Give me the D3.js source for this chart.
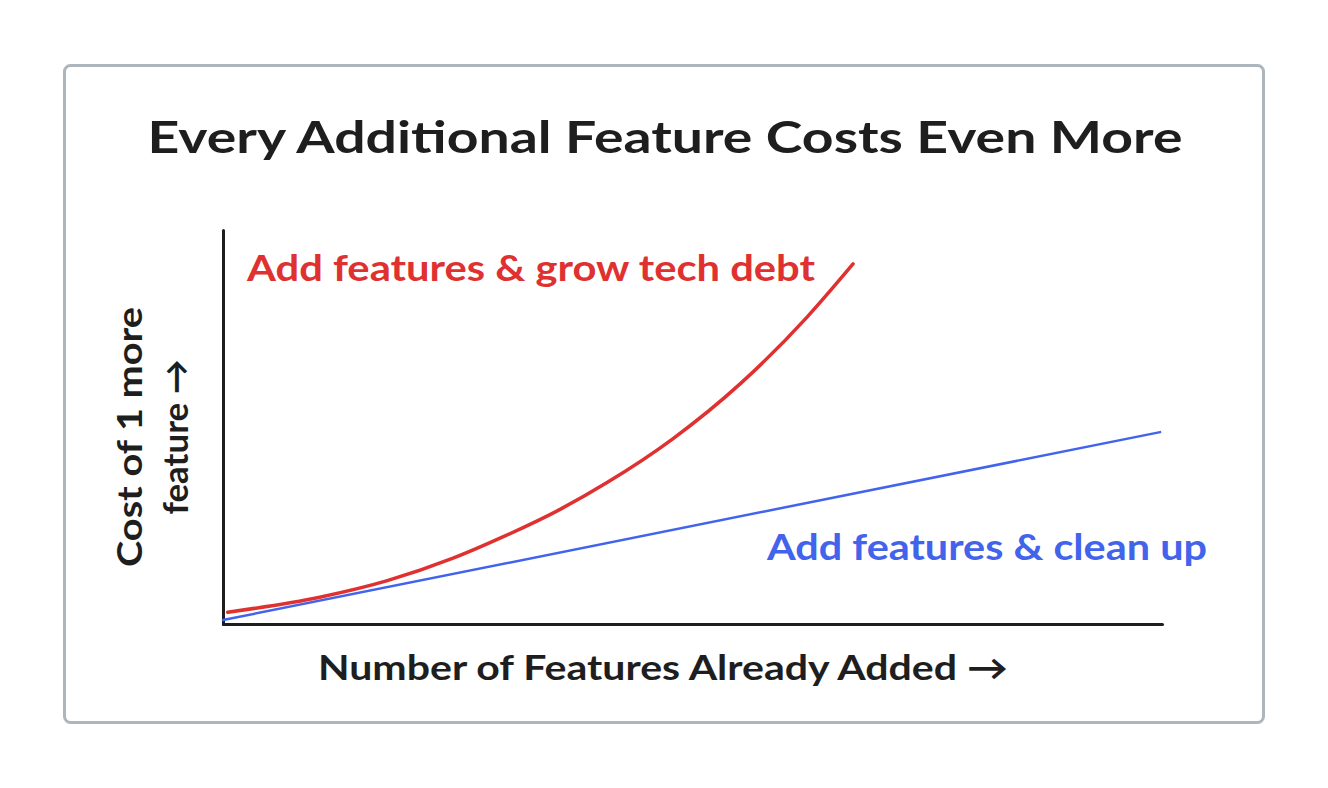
<!DOCTYPE html>
<html>
<head>
<meta charset="utf-8">
<script src="https://cdn.jsdelivr.net/npm/d3@7"></script>
<style>
  html, body { margin: 0; padding: 0; background: #ffffff; }
  svg { display: block; }
  text { font-family: Lato, "Noto Sans", sans-serif; font-weight: 700; }
</style>
</head>
<body>
<svg id="chart" width="1328" height="788"></svg>
<script>
// ---- data ----
const title = "Every Additional Feature Costs Even More";
const xAxisLabel = "Number of Features Already Added →";
const yAxisLabelLines = ["Cost of 1 more", "feature →"];
const seriesNames = ["Add features & grow tech debt", "Add features & clean up"];

// series 1: grows with tech debt (features added, cost of one more)
const debtX = [0.05, 1.03, 1.75, 2.45, 2.98, 3.59, 4.09, 4.79, 5.51, 6.22, 6.71];
const debtY = [0.30, 0.68, 1.10, 1.67, 2.21, 2.91, 3.59, 4.70, 6.10, 7.79, 9.14];
// series 2: clean up keeps cost linear
const cleanX = [0, 9.98];
const cleanY = [0.10, 4.87];

// ---- drawing ----
const svg = d3.select("#chart");
const W = 1328, H = 788;

svg.append("rect").attr("x", 0).attr("y", 0).attr("width", W).attr("height", H).attr("fill", "#ffffff");
svg.append("rect")
  .attr("x", 64.5).attr("y", 65.5).attr("width", 1199).attr("height", 657)
  .attr("rx", 6).attr("fill", "#ffffff")
  .attr("stroke", "#adb5bd").attr("stroke-width", 3);

const plot = { left: 223, right: 1162, top: 230, bottom: 624 };
const x = d3.scaleLinear().domain([0, 10]).range([plot.left, plot.right]);
const y = d3.scaleLinear().domain([0, 10]).range([plot.bottom, plot.top]);

// title
svg.append("text")
  .attr("x", 665).attr("y", 153)
  .attr("text-anchor", "middle")
  .attr("font-size", 44)
  .attr("fill", "#1e1e1e")
  .attr("textLength", 1035).attr("lengthAdjust", "spacingAndGlyphs")
  .text(title);

// axes (lines only)
const xAxis = d3.axisBottom(x).tickValues([]).tickSizeOuter(0);
const yAxis = d3.axisLeft(y).tickValues([]).tickSizeOuter(0);
svg.append("g").attr("transform", `translate(0,${plot.bottom})`).call(xAxis)
  .select(".domain").attr("stroke", "#1e1e1e").attr("stroke-width", 3).attr("stroke-linecap", "round");
svg.append("g").attr("transform", `translate(${plot.left},0)`).call(yAxis)
  .select(".domain").attr("stroke", "#1e1e1e").attr("stroke-width", 3).attr("stroke-linecap", "round");

// lines
const line = d3.line().x(d => x(d[0])).y(d => y(d[1])).curve(d3.curveMonotoneX);
const debtData = debtX.map((v, i) => [v, debtY[i]]);
const cleanData = cleanX.map((v, i) => [v, cleanY[i]]);

svg.append("path").datum(cleanData).attr("d", line)
  .attr("fill", "none").attr("stroke", "#4263eb").attr("stroke-width", 2.5).attr("stroke-linecap", "round");
svg.append("path").datum(debtData).attr("d", line)
  .attr("fill", "none").attr("stroke", "#e03131").attr("stroke-width", 3.5).attr("stroke-linecap", "round");

// series labels
svg.append("text")
  .attr("x", 247).attr("y", 281)
  .attr("font-size", 36).attr("fill", "#e03131")
  .attr("textLength", 568).attr("lengthAdjust", "spacingAndGlyphs")
  .text(seriesNames[0]);
svg.append("text")
  .attr("x", 767).attr("y", 560)
  .attr("font-size", 36).attr("fill", "#4263eb")
  .attr("textLength", 440).attr("lengthAdjust", "spacingAndGlyphs")
  .text(seriesNames[1]);

// x axis label
svg.append("text")
  .attr("x", 318).attr("y", 680)
  .attr("font-size", 35).attr("fill", "#1e1e1e")
  .attr("textLength", 690).attr("lengthAdjust", "spacingAndGlyphs")
  .text(xAxisLabel);

// y axis label (rotated, two lines)
const yl = svg.append("g").attr("transform", "translate(0,437) rotate(-90)");
yl.append("text")
  .attr("x", 0).attr("y", 142)
  .attr("text-anchor", "middle")
  .attr("font-size", 35).attr("fill", "#1e1e1e")
  .attr("textLength", 260).attr("lengthAdjust", "spacingAndGlyphs")
  .text(yAxisLabelLines[0]);
yl.append("text")
  .attr("x", 0).attr("y", 188)
  .attr("text-anchor", "middle")
  .attr("font-size", 35).attr("fill", "#1e1e1e")
  .attr("textLength", 155).attr("lengthAdjust", "spacingAndGlyphs")
  .text(yAxisLabelLines[1]);
</script>
</body>
</html>
